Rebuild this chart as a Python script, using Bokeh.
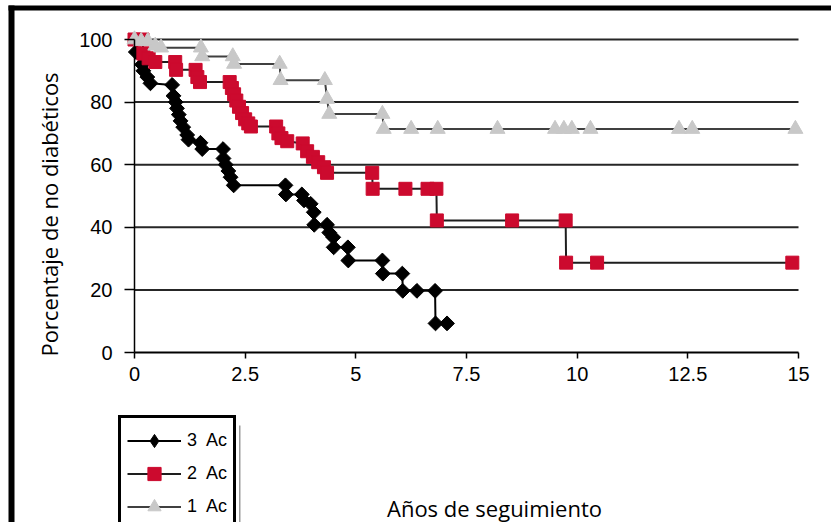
import math
from bokeh.plotting import figure
from bokeh.models import (Range1d, FixedTicker, Legend, LegendItem, Label,
                          BoxAnnotation, NumeralTickFormatter)
from bokeh.embed import file_html
from bokeh.resources import INLINE

# ---------------- data ----------------
x_ticks = [0, 2.5, 5, 7.5, 10, 12.5, 15]
y_ticks = [0, 20, 40, 60, 80, 100]
grid_levels = [20, 40, 60, 80, 100]

series_labels = ["3  Ac", "2  Ac", "1  Ac"]
x_title = "Años de seguimiento"
y_title = "Porcentaje de no diabéticos"

ac3_x = [0.03, 0.17, 0.2, 0.29, 0.36, 0.85, 0.88, 0.93, 0.96, 1.0, 1.04, 1.1, 1.19, 1.22,
         1.49, 1.53, 2.0, 2.01, 2.06, 2.12, 2.17, 2.24, 3.41, 3.42, 3.78, 3.83, 3.98, 4.05,
         4.06, 4.35, 4.4, 4.49, 4.5, 4.82, 4.83, 5.6, 5.61, 6.05, 6.06, 6.38, 6.79, 6.8, 7.06]
ac3_y = [96, 92, 90, 88, 86, 85.5, 82, 80, 78, 76, 74, 72, 69.5, 68,
         67, 65, 65, 62, 60, 58, 56, 53.4, 53.4, 50.5, 50.5, 48.6, 47.5, 44.8,
         40.8, 40.8, 38.3, 36.8, 33.6, 33.6, 29.4, 29.4, 25.2, 25.2, 19.7, 19.7, 19.7, 9.3, 9.3]

ac2_x = [0.0, 0.18, 0.2, 0.32, 0.47, 0.92, 0.94, 1.38, 1.42, 1.48, 2.15, 2.2, 2.25, 2.3,
         2.36, 2.43, 2.5, 2.57, 2.63, 3.2, 3.25, 3.32, 3.45, 3.8, 3.9, 4.03, 4.15, 4.28,
         4.35, 5.37, 5.38, 6.12, 6.62, 6.82, 6.83, 8.53, 9.74, 9.75, 10.45, 14.86]
ac2_y = [100, 100, 95.5, 94, 92.8, 92.8, 90.3, 90.3, 88, 86.4, 86.4, 84.5, 82.5, 80.5,
         78.5, 76.5, 74.5, 73.2, 72.2, 72.2, 70, 68.5, 67.5, 66.8, 64.3, 62.5, 60.8, 59.2,
         57.4, 57.4, 52.3, 52.3, 52.3, 52.3, 42.2, 42.2, 42.2, 28.7, 28.7, 28.7]

ac1_x = [0.0, 0.15, 0.3, 0.47, 0.6, 1.5, 1.53, 2.22, 2.25, 3.28, 3.3, 4.3, 4.35, 4.4,
         5.6, 5.63, 6.25, 6.85, 8.2, 9.5, 9.7, 9.88, 10.3, 12.3, 12.6, 14.93]
ac1_y = [100, 99.5, 99.5, 98, 97.4, 97.4, 94.6, 94.6, 92.2, 92.2, 87, 87, 81, 76.2,
         76.2, 71.4, 71.4, 71.4, 71.4, 71.4, 71.4, 71.4, 71.4, 71.4, 71.4, 71.4]

# ---------------- geometry (pixels of the 831x522 canvas) ----------------
W, H = 831, 522
X0_PX, X15_PX = 134, 798      # where x=0 and x=15 fall
Y0_PX, Y100_PX = 352, 39      # where y=0 and y=100 fall
ux = (X15_PX - X0_PX) / 15.0
uy = (Y0_PX - Y100_PX) / 100.0
x_start, x_end = -X0_PX / ux, (W - X0_PX) / ux
y_start, y_end = -(H - Y0_PX) / uy, Y0_PX / uy

p = figure(width=W, height=H, output_backend="svg", toolbar_location=None,
           x_range=Range1d(x_start, x_end), y_range=Range1d(y_start, y_end),
           min_border=0, min_border_left=0, min_border_right=0,
           min_border_top=0, min_border_bottom=0)
p.background_fill_color = "white"
p.border_fill_color = "white"
p.outline_line_color = None
p.xgrid.visible = False
p.ygrid.visible = False

# horizontal grid lines
p.segment(x0=[0] * len(grid_levels), y0=grid_levels,
          x1=[15] * len(grid_levels), y1=grid_levels,
          line_color="#262626", line_width=2)

# axes drawn at x=0 / y=0 inside the canvas
p.xaxis.fixed_location = 0
p.yaxis.fixed_location = 0
p.xaxis.bounds = (0, 15)
p.yaxis.bounds = (0, 100)
p.xaxis.ticker = FixedTicker(ticks=x_ticks)
p.xaxis.formatter = NumeralTickFormatter(format="0.[0]")
p.yaxis.ticker = FixedTicker(ticks=y_ticks)
for ax in (p.xaxis[0], p.yaxis[0]):
    ax.axis_line_color = "black"
    ax.major_tick_line_color = "black"
    ax.major_tick_line_width = 1.5
    ax.minor_tick_line_color = None
    ax.major_tick_in = 0
    ax.major_label_text_font = "Liberation Sans"
    ax.major_label_text_font_size = "20px"
    ax.major_label_text_color = "black"
p.xaxis.axis_line_width = 2
p.yaxis.axis_line_width = 1.5
p.xaxis.major_tick_out = 6
p.yaxis.major_tick_out = 10
p.xaxis.major_label_standoff = 8
p.yaxis.major_label_standoff = 12

# ---------------- series ----------------
l3 = p.line(ac3_x, ac3_y, line_color="black", line_width=2)
# plain diamonds (used for the legend key), covered by the rotated squares below
k3 = p.scatter(ac3_x, ac3_y, marker="diamond", size=13,
               fill_color="black", line_color="black")
m3 = p.scatter(ac3_x, ac3_y, marker="square", angle=math.pi / 4, size=10.5,
               fill_color="black", line_color="black")
l2 = p.line(ac2_x, ac2_y, line_color="#1e1e1e", line_width=2)
m2 = p.scatter(ac2_x, ac2_y, marker="square", size=13,
               fill_color="#cc0a2e", line_color="#cc0a2e")
l1 = p.line(ac1_x, ac1_y, line_color="#404040", line_width=2)
m1 = p.scatter(ac1_x, ac1_y, marker="triangle", size=15,
               fill_color="#c8c8c8", line_color="#c8c8c8")

legend = Legend(items=[LegendItem(label=series_labels[0], renderers=[l3, k3]),
                       LegendItem(label=series_labels[1], renderers=[l2, m2]),
                       LegendItem(label=series_labels[2], renderers=[l1, m1])],
                location=(118, -10))
legend.border_line_color = "black"
legend.border_line_alpha = 1
legend.border_line_width = 3.5
legend.background_fill_color = "white"
legend.background_fill_alpha = 1
legend.glyph_width = 54
legend.glyph_height = 33
legend.label_height = 33
legend.spacing = 0
legend.padding = 6
legend.margin = 0
legend.label_standoff = 6
legend.label_text_font = "Liberation Sans"
legend.label_text_font_size = "18px"
legend.label_text_color = "black"
p.add_layout(legend)

# ---------------- titles ----------------
p.add_layout(Label(x=(494 - X0_PX) / ux, y=-(507 - Y0_PX) / uy, text=x_title,
                   text_align="center", text_baseline="middle",
                   text_font="Open Sans", text_font_size="22px", text_color="black"))
p.add_layout(Label(x=(48 - X0_PX) / ux, y=(Y0_PX - 214) / uy, text=y_title,
                   angle=math.pi / 2, text_align="center", text_baseline="middle",
                   text_font="Open Sans", text_font_size="22px", text_color="black"))

# ---------------- outer frame of the picture + legend shadow line ----------------
for (l, r, t, b, c) in [(8, 14, 5, 540, "black"), (8, 840, 5, 10, "black"),
                        (238.5, 240, 425, 540, "#9a9a9a")]:
    p.add_layout(BoxAnnotation(left=l, right=r, top=t, bottom=b,
                               left_units="canvas", right_units="canvas",
                               top_units="canvas", bottom_units="canvas",
                               fill_color=c, fill_alpha=1, line_color=None,
                               level="overlay"))

open("out.html", "w").write(file_html(p, INLINE))
